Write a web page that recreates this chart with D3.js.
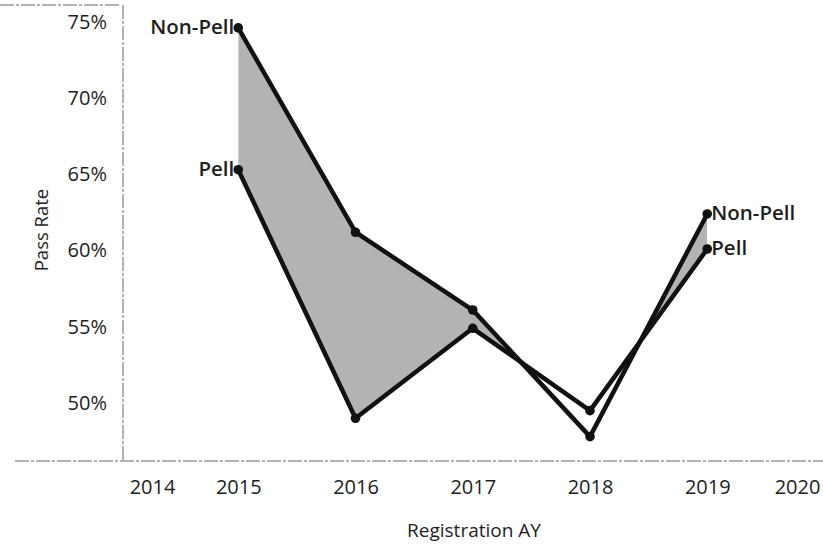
<!DOCTYPE html>
<meta charset="utf-8">
<style>
body { margin: 0; background: #fff; }
svg text { font-family: "Open Sans", "Noto Sans", sans-serif; fill: #1e1e1e; }
.axis text { font-size: 20px; }
.axis .domain { display: none; }
.frame { stroke: #9a9a9a; stroke-width: 1.5; stroke-dasharray: 14 2 3 2; fill: none; }
.band { fill: #b3b3b3; }
.series { fill: none; stroke: #111; stroke-width: 4.5; stroke-linejoin: round; }
.label { font-size: 20.5px; font-weight: 600; }
</style>
<svg width="823" height="548"></svg>
<script src="https://d3js.org/d3.v7.min.js"></script>
<script>

var years = [2015, 2016, 2017, 2018, 2019];
var nonPell = [74.6, 61.2, 56.1, 47.8, 62.4];
var pell = [65.3, 49.0, 54.9, 49.5, 60.1];
var tickYears = [2014, 2015, 2016, 2017, 2018, 2019, 2020];
var tickPcts = [50, 55, 60, 65, 70, 75];

var svg = d3.select("svg");

var x = d3.scaleLinear().domain([2014, 2020]).range([121, 824.5]);
// tick labels follow x, except the two end years which sit inside the frame
var xTick = d3.scaleLinear().domain([2014, 2015, 2019, 2020]).range([152, x(2015), x(2019), 797]);
var y = d3.scaleLinear().domain([46.2, 76.1]).range([461, 5]);

var rows = years.map(function(d, i) { return {year: d, np: nonPell[i], p: pell[i]}; });

// frame lines
svg.append("line").attr("class", "frame")
    .attr("x1", 123).attr("x2", 123).attr("y1", 5).attr("y2", 461);
svg.append("line").attr("class", "frame")
    .attr("x1", 15).attr("x2", 823).attr("y1", 461).attr("y2", 461);
svg.append("line").attr("class", "frame")
    .attr("x1", 0).attr("x2", 120).attr("y1", 5).attr("y2", 5);

// shaded gap where Non-Pell is above Pell
svg.append("clipPath").attr("id", "above")
  .append("path")
    .datum(rows)
    .attr("d", d3.area()
        .x(function(d) { return x(d.year); })
        .y0(0)
        .y1(function(d) { return y(d.p); }));

svg.append("path")
    .datum(rows)
    .attr("class", "band")
    .attr("clip-path", "url(#above)")
    .attr("d", d3.area()
        .x(function(d) { return x(d.year); })
        .y0(function(d) { return y(d.np); })
        .y1(function(d) { return y(d.p); }));

var line = d3.line()
    .x(function(d) { return x(d[0]); })
    .y(function(d) { return y(d[1]); });

[nonPell, pell].forEach(function(s) {
  var pts = years.map(function(yr, i) { return [yr, s[i]]; });
  svg.append("path").attr("class", "series").attr("d", line(pts));
  svg.selectAll(null).data(pts).enter().append("circle")
      .attr("cx", function(d) { return x(d[0]); })
      .attr("cy", function(d) { return y(d[1]); })
      .attr("r", 4.8)
      .attr("fill", "#111");
});

// end labels
var first = 0, last = years.length - 1;
svg.append("text").attr("class", "label")
    .attr("x", x(years[first]) - 4).attr("y", y(nonPell[first])).attr("dy", "0.3em")
    .attr("text-anchor", "end").text("Non-Pell");
svg.append("text").attr("class", "label")
    .attr("x", x(years[first]) - 4).attr("y", y(pell[first])).attr("dy", "0.3em")
    .attr("text-anchor", "end").text("Pell");
svg.append("text").attr("class", "label")
    .attr("x", x(years[last]) + 4).attr("y", y(nonPell[last])).attr("dy", "0.3em")
    .text("Non-Pell");
svg.append("text").attr("class", "label")
    .attr("x", x(years[last]) + 4).attr("y", y(pell[last])).attr("dy", "0.3em")
    .text("Pell");

// axes
svg.append("g").attr("class", "axis")
    .attr("transform", "translate(0,461)")
    .call(d3.axisBottom(xTick).tickValues(tickYears).tickSize(0).tickPadding(19)
        .tickFormat(d3.format("d")));

svg.append("g").attr("class", "axis")
    .attr("transform", "translate(123,0)")
    .call(d3.axisLeft(y).tickValues(tickPcts).tickSize(0).tickPadding(16)
        .tickFormat(function(d) { return d + "%"; }));

svg.append("text")
    .attr("transform", "translate(42,230) rotate(-90)")
    .attr("text-anchor", "middle").attr("dy", "0.35em")
    .style("font-size", "18.5px")
    .text("Pass Rate");

svg.append("text")
    .attr("x", 474).attr("y", 530)
    .attr("text-anchor", "middle").attr("dy", "0.35em")
    .style("font-size", "19px")
    .text("Registration AY");
</script>
